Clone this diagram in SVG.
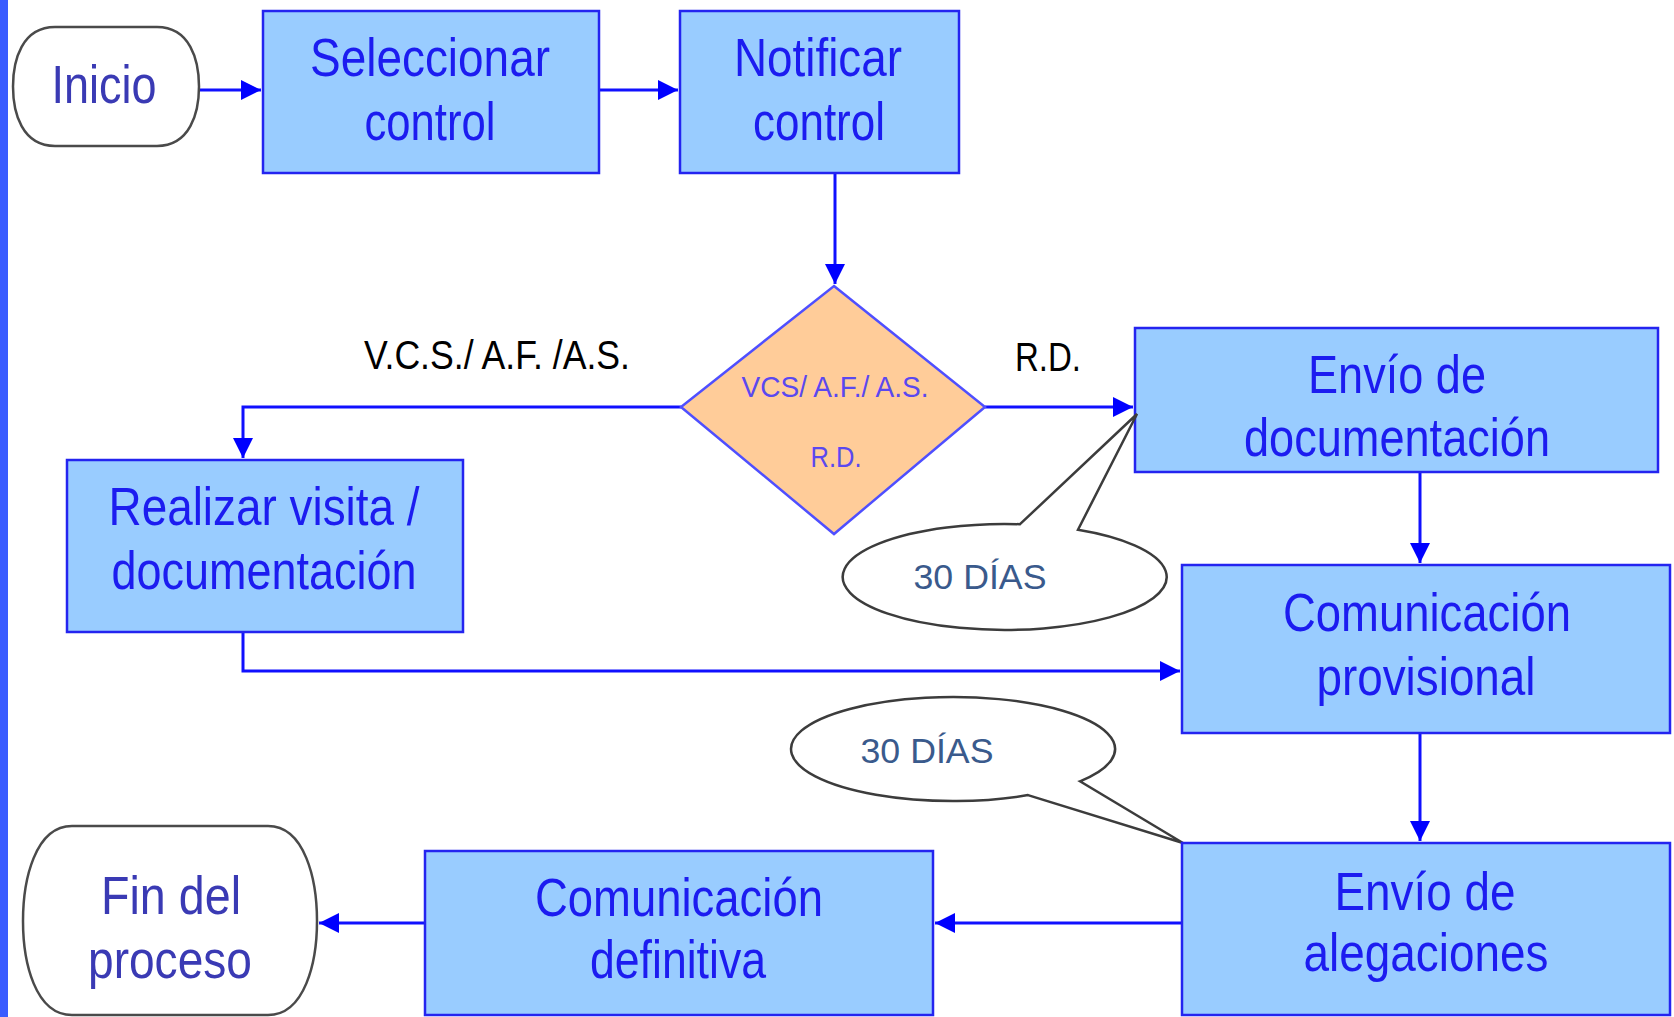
<svg xmlns="http://www.w3.org/2000/svg" width="1674" height="1017" viewBox="0 0 1674 1017">
<style>
.box{fill:#99ccff;stroke:#2424f0;stroke-width:2.5}
.term{fill:#ffffff;stroke:#4a4a4a;stroke-width:2.5}
.bt{font-family:"Liberation Sans",Arial,sans-serif;font-size:54px;fill:#1c1cf0;text-anchor:middle}
.tt{font-family:"Liberation Sans",Arial,sans-serif;font-size:54px;fill:#3a3ab4;text-anchor:middle}
.lbl{font-family:"Liberation Sans",Arial,sans-serif;font-size:41px;fill:#000000}
.dt{font-family:"Liberation Sans",Arial,sans-serif;font-size:30px;fill:#5a48f0;text-anchor:middle}
.ct{font-family:"Liberation Sans",Arial,sans-serif;font-size:35px;fill:#3a5a8c;text-anchor:middle}
.call{fill:#ffffff;stroke:#3c3c3c;stroke-width:2.5;stroke-linejoin:miter}
.conn{fill:none;stroke:#1010ff;stroke-width:3}
</style>
<defs>
<marker id="ah" markerUnits="userSpaceOnUse" markerWidth="20" markerHeight="20" refX="20" refY="10" orient="auto">
<path d="M0,0 L20,10 L0,20 Z" fill="#0000ff"/>
</marker>
</defs>
<rect x="0" y="0" width="1674" height="1017" fill="#ffffff"/>
<rect x="0" y="0" width="8" height="1017" fill="#3a5cff"/>

<g id="connectors">
<path class="conn" d="M199,90 H261" marker-end="url(#ah)"/>
<path class="conn" d="M599,90 H678" marker-end="url(#ah)"/>
<path class="conn" d="M835,173 V284" marker-end="url(#ah)"/>
<path class="conn" d="M681,407 H243 V458" marker-end="url(#ah)"/>
<path class="conn" d="M985,407 H1133" marker-end="url(#ah)"/>
<path class="conn" d="M1420,472 V563" marker-end="url(#ah)"/>
<path class="conn" d="M243,632 V671 H1180" marker-end="url(#ah)"/>
<path class="conn" d="M1420,733 V841" marker-end="url(#ah)"/>
<path class="conn" d="M1182,923 H935" marker-end="url(#ah)"/>
<path class="conn" d="M425,923 H319" marker-end="url(#ah)"/>
</g>

<g id="inicio">
<path class="term" d="M55,27 H157 C190,27 199,60 199,86.5 C199,113 190,146 157,146 H55 C22,146 13,113 13,86.5 C13,60 22,27 55,27 Z"/>
<text class="tt" x="104" y="103" font-size="48" textLength="105" lengthAdjust="spacingAndGlyphs">Inicio</text>
</g>

<g id="seleccionar">
<rect class="box" x="263" y="11" width="336" height="162"/>
<text class="bt" x="430" y="76" textLength="240" lengthAdjust="spacingAndGlyphs">Seleccionar</text>
<text class="bt" x="430" y="140" textLength="131" lengthAdjust="spacingAndGlyphs">control</text>
</g>

<g id="notificar">
<rect class="box" x="680" y="11" width="279" height="162"/>
<text class="bt" x="818" y="76" textLength="168" lengthAdjust="spacingAndGlyphs">Notificar</text>
<text class="bt" x="819" y="140" textLength="132" lengthAdjust="spacingAndGlyphs">control</text>
</g>

<g id="decision">
<polygon points="834,286 985,407 834,534 681,407" fill="#ffcc99" stroke="#4f4fff" stroke-width="2.5"/>
<text class="dt" x="835" y="397" textLength="187" lengthAdjust="spacingAndGlyphs">VCS/ A.F./ A.S.</text>
<text class="dt" x="836" y="467" textLength="51" lengthAdjust="spacingAndGlyphs">R.D.</text>
</g>

<g id="labels">
<text class="lbl" x="364" y="369" textLength="266" lengthAdjust="spacingAndGlyphs">V.C.S./ A.F. /A.S.</text>
<text class="lbl" x="1015" y="371" textLength="66" lengthAdjust="spacingAndGlyphs">R.D.</text>
</g>

<g id="realizar">
<rect class="box" x="67" y="460" width="396" height="172"/>
<text class="bt" x="264" y="525" textLength="311" lengthAdjust="spacingAndGlyphs">Realizar visita /</text>
<text class="bt" x="264" y="589" textLength="305" lengthAdjust="spacingAndGlyphs">documentación</text>
</g>

<g id="envio-doc">
<rect class="box" x="1135" y="328" width="523" height="144"/>
<text class="bt" x="1397" y="393" textLength="178" lengthAdjust="spacingAndGlyphs">Envío  de</text>
<text class="bt" x="1397" y="456" textLength="306" lengthAdjust="spacingAndGlyphs">documentación</text>
</g>

<g id="callout-1">
<path class="call" d="M1020,524.2 L1137,414 L1078,529.7 A162,53 0 1 1 1020,524.2 Z"/>
<text class="ct" x="980" y="589" textLength="133" lengthAdjust="spacingAndGlyphs">30 DÍAS</text>
</g>

<g id="com-prov">
<rect class="box" x="1182" y="565" width="488" height="168"/>
<text class="bt" x="1427" y="631" textLength="288" lengthAdjust="spacingAndGlyphs">Comunicación</text>
<text class="bt" x="1426" y="695" textLength="219" lengthAdjust="spacingAndGlyphs">provisional</text>
</g>

<g id="callout-2">
<path class="call" d="M1028,795.1 L1183,843 L1080,781.3 A162,52 0 1 0 1028,795.1 Z"/>
<text class="ct" x="927" y="763" textLength="133" lengthAdjust="spacingAndGlyphs">30 DÍAS</text>
</g>

<g id="envio-aleg">
<rect class="box" x="1182" y="843" width="488" height="172"/>
<text class="bt" x="1425" y="910" textLength="181" lengthAdjust="spacingAndGlyphs">Envío  de</text>
<text class="bt" x="1426" y="971" textLength="245" lengthAdjust="spacingAndGlyphs">alegaciones</text>
</g>

<g id="com-def">
<rect class="box" x="425" y="851" width="508" height="164"/>
<text class="bt" x="679" y="916" textLength="288" lengthAdjust="spacingAndGlyphs">Comunicación</text>
<text class="bt" x="678" y="978" textLength="176" lengthAdjust="spacingAndGlyphs">definitiva</text>
</g>

<g id="fin">
<path class="term" d="M72,826 H268 C305,826 317,880 317,921 C317,962 305,1015 268,1015 H72 C35,1015 23,962 23,921 C23,880 35,826 72,826 Z"/>
<text class="tt" x="171" y="914" textLength="140" lengthAdjust="spacingAndGlyphs">Fin del</text>
<text class="tt" x="170" y="978" textLength="164" lengthAdjust="spacingAndGlyphs">proceso</text>
</g>
</svg>
